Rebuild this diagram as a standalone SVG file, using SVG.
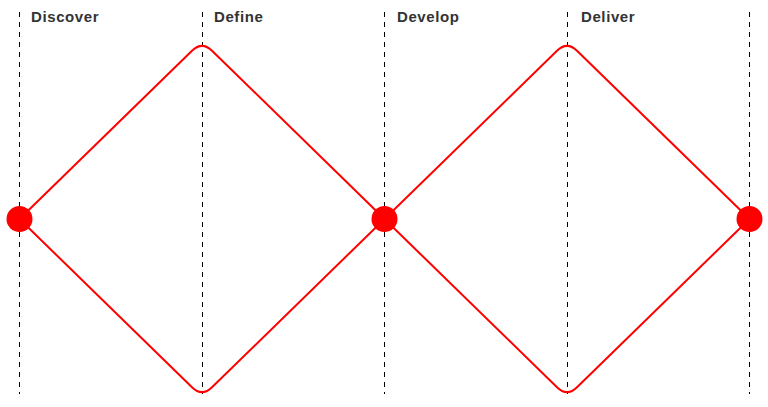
<svg xmlns="http://www.w3.org/2000/svg" width="768" height="407" viewBox="0 0 768 407">
<style>
.guide{stroke:#000;stroke-width:1;stroke-dasharray:5 5;fill:none}
.diamond{stroke:#ff0000;stroke-width:2;fill:none;stroke-linejoin:round}
.node{fill:#ff0000}
.label{font-family:"Liberation Sans",Arial,sans-serif;font-weight:bold;font-size:15px;fill:#333;letter-spacing:0.6px}
</style>
<rect width="768" height="407" fill="#fff"/>
<g id="guides">
<line class="guide" x1="19.5" y1="12" x2="19.5" y2="394"/>
<line class="guide" x1="202.5" y1="12" x2="202.5" y2="394"/>
<line class="guide" x1="384.5" y1="12" x2="384.5" y2="394"/>
<line class="guide" x1="567.5" y1="12" x2="567.5" y2="394"/>
<line class="guide" x1="749.5" y1="12" x2="749.5" y2="394"/>
</g>
<g id="labels">
<text class="label" x="31" y="22">Discover</text>
<text class="label" x="214" y="22">Define</text>
<text class="label" x="397" y="22">Develop</text>
<text class="label" x="581" y="22">Deliver</text>
</g>
<g id="connectors">
<path class="diamond" d="M19.5,219 L192,50.75 Q202,41 212,50.75 L384.5,219 L212,387.25 Q202,397 192,387.25 Z"/>
<path class="diamond" d="M384.5,219 L557,50.75 Q567,41 577,50.75 L749.5,219 L577,387.25 Q567,397 557,387.25 Z"/>
</g>
<g id="node-start"><circle class="node" cx="19.5" cy="219" r="13"/></g>
<g id="node-middle"><circle class="node" cx="384.5" cy="219" r="13"/></g>
<g id="node-end"><circle class="node" cx="749.5" cy="219" r="13"/></g>
</svg>
